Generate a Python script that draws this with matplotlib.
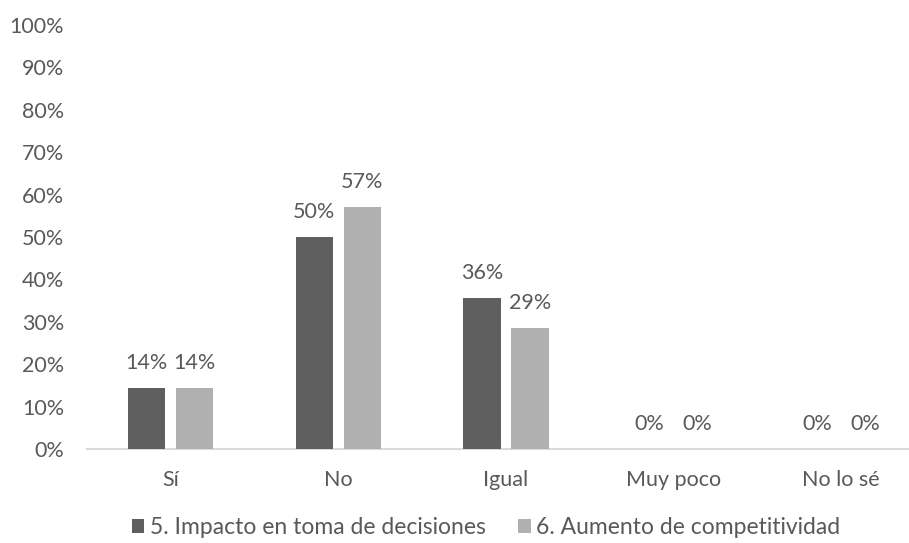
import matplotlib
matplotlib.use("Agg")
import matplotlib.pyplot as plt
import numpy as np

categories = ["Sí", "No", "Igual", "Muy poco", "No lo sé"]
series_names = ["5. Impacto en toma de decisiones", "6. Aumento de competitividad"]
serie1 = [14.29, 50.0, 35.71, 0.0, 0.0]
serie2 = [14.29, 57.14, 28.57, 0.0, 0.0]
labels1 = ["14%", "50%", "36%", "0%", "0%"]
labels2 = ["14%", "57%", "29%", "0%", "0%"]
yticks = list(range(0, 101, 10))

plt.rcParams['font.family'] = ['Lato', 'DejaVu Sans']
TXT = '#595959'
FS = 15.5
W, H = 909, 543
fig = plt.figure(figsize=(W/100, H/100), dpi=100)
left, right, bottom, top = 87, 925, 543-449, 543-25
ax = fig.add_axes([left/W, bottom/H, (right-left)/W, (top-bottom)/H])

x = np.arange(len(categories))
bw = 0.221
off = 0.1433
c1, c2 = '#5f5f5f', '#b0b0b0'
b1 = ax.bar(x - off, serie1, bw, color=c1, label=series_names[0], zorder=3)
b2 = ax.bar(x + off, serie2, bw, color=c2, label=series_names[1], zorder=3)

for xs, vals, labs in ((x - off, serie1, labels1), (x + off, serie2, labels2)):
    for xi, v, l in zip(xs, vals, labs):
        ax.annotate(l, (xi, v), xytext=(0, 18), textcoords='offset points',
                    ha='center', va='center', fontsize=FS, color=TXT)

ax.set_xlim(-0.5, len(categories) - 0.5)
ax.set_ylim(0, 100)
ax.set_yticks(yticks)
ax.set_yticklabels([f"{t}%" for t in yticks], fontsize=FS, color=TXT)
ax.set_xticks(x)
ax.set_xticklabels(categories, fontsize=FS, color=TXT)
ax.tick_params(axis='both', length=0)
ax.tick_params(axis='y', pad=16.5)
ax.tick_params(axis='x', pad=15)
for s in ['top', 'right', 'left']:
    ax.spines[s].set_visible(False)
ax.spines['bottom'].set_color('#d9d9d9')
ax.spines['bottom'].set_linewidth(1.5)

fig.legend(handles=[b1, b2], loc='center', bbox_to_anchor=(486/W, 1 - 528/H),
           ncol=2, frameon=False, fontsize=16.5, labelcolor=TXT,
           handlelength=0.55, handleheight=0.55, handletextpad=0.25, columnspacing=1.4)

fig.savefig("out.png", dpi=100)
